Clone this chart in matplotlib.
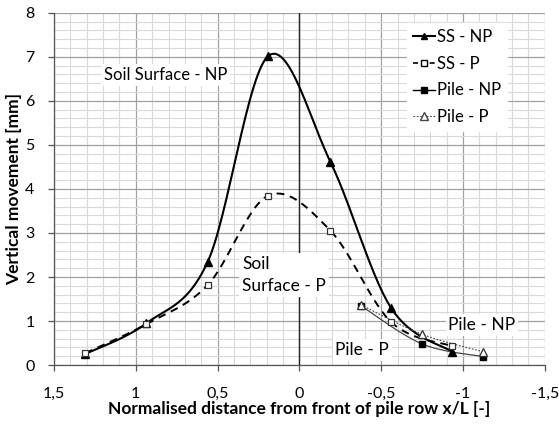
import numpy as np
import matplotlib
matplotlib.use("Agg")
import matplotlib.pyplot as plt
from matplotlib.ticker import MultipleLocator, FuncFormatter

plt.rcParams['font.family'] = ['Lato', 'DejaVu Sans']

# Data
ss_np_x = [1.31, 0.935, 0.56, 0.19, -0.19, -0.56, -0.935]
ss_np_y = [0.25, 0.95, 2.35, 7.02, 4.61, 1.30, 0.30]
ss_p_x = [1.31, 0.935, 0.56, 0.19, -0.19, -0.56, -0.935]
ss_p_y = [0.27, 0.93, 1.82, 3.85, 3.05, 0.98, 0.43]
pile_np_x = [-0.375, -0.75, -1.125]
pile_np_y = [1.35, 0.48, 0.19]
pile_p_x = [-0.375, -0.75, -1.125]
pile_p_y = [1.37, 0.70, 0.30]


def smooth(x, y, n=30):
    # Excel-like smoothed line (Catmull-Rom Bezier)
    x = np.asarray(x, float); y = np.asarray(y, float)
    P = np.column_stack([x, y])
    out = []
    for i in range(len(P) - 1):
        p0 = P[i - 1] if i > 0 else P[i]
        p1 = P[i]; p2 = P[i + 1]
        p3 = P[i + 2] if i + 2 < len(P) else P[i + 1]
        c1 = p1 + (p2 - p0) / 6.0
        c2 = p2 - (p3 - p1) / 6.0
        t = np.linspace(0, 1, n)[:, None]
        b = ((1 - t) ** 3) * p1 + 3 * ((1 - t) ** 2) * t * c1 + 3 * (1 - t) * t ** 2 * c2 + t ** 3 * p2
        out.append(b if i == 0 else b[1:])
    B = np.vstack(out)
    return B[:, 0], B[:, 1]


fig = plt.figure(figsize=(5.59, 4.26), dpi=100)
ax = fig.add_axes([0.0966, 0.143, 0.878, 0.827])

ax.set_xlim(1.5, -1.5)
ax.set_ylim(0, 8)
ax.xaxis.set_major_locator(MultipleLocator(0.5))
ax.xaxis.set_minor_locator(MultipleLocator(0.1))
ax.yaxis.set_major_locator(MultipleLocator(1))
ax.yaxis.set_minor_locator(MultipleLocator(0.2))
ax.grid(which='major', color='#a0a0a0', linewidth=0.9)
ax.grid(which='minor', color='#d9d9d9', linewidth=0.8)
ax.set_axisbelow(True)

fmt = FuncFormatter(lambda v, p: ('%g' % v).replace('.', ','))
ax.xaxis.set_major_formatter(fmt)
ax.yaxis.set_major_formatter(FuncFormatter(lambda v, p: '%d' % round(v)))
ax.tick_params(which='minor', length=0)
ax.tick_params(which='major', length=4, width=0.9, color='#555555', labelsize=11.5)
ax.tick_params(axis='x', pad=12)
ax.tick_params(axis='y', pad=10)
for s in ['top', 'right']:
    ax.spines[s].set_visible(False)
for s in ['left', 'bottom']:
    ax.spines[s].set_color('#555555')
    ax.spines[s].set_linewidth(0.9)

ax.axvline(0, color='#222222', linewidth=1.0, zorder=1.5)

sx, sy = smooth(ss_np_x, ss_np_y)
ax.plot(sx, sy, color='black', linewidth=1.5, zorder=3)
ax.plot(ss_np_x, ss_np_y, linestyle='none', marker='^', color='black', markersize=5.5, zorder=4)

sx, sy = smooth(ss_p_x, ss_p_y)
ax.plot(sx, sy, color='black', linewidth=1.4, linestyle=(0, (4, 3)), zorder=3)
ax.plot(ss_p_x, ss_p_y, linestyle='none', marker='s', markerfacecolor='white',
        markeredgecolor='#333333', markersize=4.5, markeredgewidth=0.9, zorder=4)

sx, sy = smooth(pile_np_x, pile_np_y)
ax.plot(sx, sy, color='#444444', linewidth=0.9, zorder=3)
ax.plot(pile_np_x, pile_np_y, linestyle='none', marker='s', color='black', markersize=5, zorder=4)

sx, sy = smooth(pile_p_x, pile_p_y)
ax.plot(sx, sy, color='#444444', linewidth=0.8, linestyle=(0, (1.5, 1.5)), zorder=3)
ax.plot(pile_p_x, pile_p_y, linestyle='none', marker='^', markerfacecolor='white',
        markeredgecolor='#333333', markersize=6, markeredgewidth=0.9, zorder=4)

# Legend proxies
h1, = ax.plot([], [], color='black', linewidth=1.5, marker='^', markersize=5)
h2, = ax.plot([], [], color='black', linewidth=1.2, linestyle=(0, (3, 2)), marker='s',
              markerfacecolor='white', markersize=4.5)
h3, = ax.plot([], [], color='black', linewidth=1.0, marker='s', markersize=5)
h4, = ax.plot([], [], color='#444444', linewidth=0.8, linestyle=(0, (1.5, 1.5)), marker='^',
              markerfacecolor='white', markersize=5.5)
leg = ax.legend([h1, h2, h3, h4], ['SS - NP', 'SS - P', 'Pile - NP', 'Pile - P'],
                loc='upper right', bbox_to_anchor=(0.94, 0.995), frameon=True, fontsize=12,
                handlelength=1.3, handletextpad=0.15, labelspacing=0.65, borderpad=0.35,
                fancybox=False, edgecolor='white', framealpha=1)
leg.set_zorder(5)

bbox = dict(facecolor='white', edgecolor='none', pad=2)
ax.text(0.82, 6.59, 'Soil Surface - NP', fontsize=12, ha='center', va='center', bbox=bbox, zorder=5)
ax.text(0.35, 2.05, 'Soil\nSurface - P', fontsize=12.5, ha='left', va='center', bbox=bbox,
        linespacing=1.5, zorder=5)
ax.text(-1.116, 0.91, 'Pile - NP', fontsize=12.5, ha='center', va='center', bbox=bbox, zorder=5)
ax.text(-0.384, 0.34, 'Pile - P', fontsize=12.5, ha='center', va='center', bbox=bbox, zorder=5)

ax.set_xlabel('Normalised distance from front of pile row x/L [-]', fontsize=12.5,
              fontweight='bold', labelpad=0)
ax.set_ylabel('Vertical movement [mm]', fontsize=12.5, fontweight='bold', labelpad=2)

fig.savefig('out.png', dpi=100)
